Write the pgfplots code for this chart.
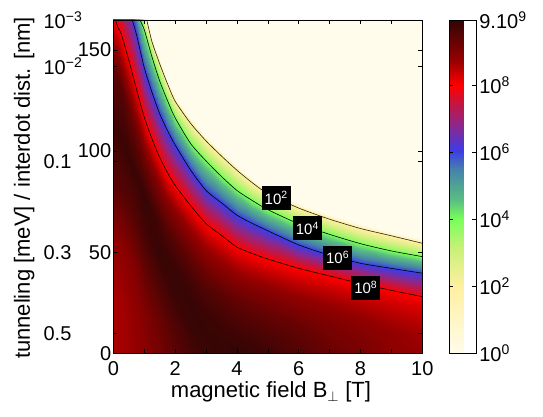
\documentclass[border=0pt]{standalone}
\usepackage{fontspec}
\setmainfont{Liberation Sans}
\usepackage{pgfplots}
\usepackage{pgfplotstable}
\pgfplotsset{compat=1.18}

% log10 of the rate on a curvilinear mesh: one scanline of 12 points per field value B,
% running up in distance d (interior points, then the 10^8, 10^6, 10^4, 10^2 levels)
\pgfplotstableread{
B d lg
0 0 8.6
0 28 8.6
0 56 8.8
0 84 9.5
0 112 9.8
0 140 9.4
0 168 8
0 200 6
0 225 4
0 245 2
0 247 0
0 260 0
0.25 0 8.65
0.25 26.35 8.65
0.25 52.7 8.85
0.25 79.05 9.5
0.25 105.4 9.85
0.25 131.75 9.5
0.25 158.1 8
0.25 187 6
0.25 210 4
0.25 228 2
0.25 230 0
0.25 260 0
0.5 0 8.7
0.5 24.15 8.75
0.5 48.3 8.95
0.5 72.45 9.5
0.5 96.6 9.85
0.5 120.75 9.3
0.5 144.9 8
0.5 174 6
0.5 192 4
0.5 208 2
0.5 210 0
0.5 260 0
0.75 0 8.8
0.75 21.75 8.85
0.75 43.5 9.1
0.75 65.25 9.6
0.75 87 9.85
0.75 108.75 9.2
0.75 130.5 8
0.75 157.4 6
0.75 175 4
0.75 186 2
0.75 188 0
0.75 260 0
1 0 8.9
1 19.45 9.0
1 38.9 9.3
1 58.35 9.7
1 77.8 9.9
1 97.25 9.2
1 116.7 8
1 141.2 6
1 160 4
1 166 2
1 168 0
1 260 0
1.25 0 9.03
1.25 17.67 9.15
1.25 35.33 9.45
1.25 53 9.8
1.25 70.67 9.8
1.25 88.33 9.1
1.25 106 8
1.25 129 6
1.25 146.5 4
1.25 154 2
1.25 156 0
1.25 260 0
1.5 0 9.15
1.5 16.13 9.3
1.5 32.27 9.6
1.5 48.4 9.9
1.5 64.53 9.7
1.5 80.67 9.0
1.5 96.8 8
1.5 118.4 6
1.5 134.6 4
1.5 143.1 2
1.5 145.1 0
1.5 260 0
1.75 0 9.3
1.75 14.88 9.45
1.75 29.77 9.73
1.75 44.65 9.88
1.75 59.53 9.6
1.75 74.42 8.95
1.75 89.3 8
1.75 110.2 6
1.75 125 4
1.75 133.3 2
1.75 135.3 0
1.75 260 0
2 0 9.45
2 13.83 9.6
2 27.67 9.85
2 41.5 9.85
2 55.33 9.5
2 69.17 8.9
2 83 8
2 103 6
2 116.4 4
2 124.6 2
2 126.6 0
2 260 0
2.5 0 9.7
2.5 12.17 9.85
2.5 24.33 9.9
2.5 36.5 9.7
2.5 48.67 9.3
2.5 60.83 8.75
2.5 73 8
2.5 90.6 6
2.5 103.7 4
2.5 113.7 2
2.5 115.7 0
2.5 260 0
3 0 9.85
3 10.68 9.9
3 21.37 9.8
3 32.05 9.55
3 42.73 9.15
3 53.42 8.65
3 64.1 8
3 80.5 6
3 95.1 4
3 105 2
3 107 0
3 260 0
3.5 0 9.9
3.5 9.72 9.85
3.5 19.43 9.7
3.5 29.15 9.45
3.5 38.87 9.05
3.5 48.58 8.6
3.5 58.3 8
3.5 74.4 6
3.5 87.4 4
3.5 97.5 2
3.5 99.5 0
3.5 260 0
4 0 9.95
4 8.75 9.8
4 17.5 9.6
4 26.25 9.35
4 35 9.0
4 43.75 8.55
4 52.5 8
4 68.3 6
4 80.5 4
4 90.5 2
4 92.5 0
4 260 0
4.5 0 9.9
4.5 8.22 9.73
4.5 16.43 9.53
4.5 24.65 9.28
4.5 32.87 8.95
4.5 41.08 8.53
4.5 49.3 8
4.5 64.2 6
4.5 75.5 4
4.5 84.3 2
4.5 86.3 0
4.5 260 0
5 0 9.8
5 7.77 9.65
5 15.53 9.45
5 23.3 9.2
5 31.07 8.9
5 38.83 8.5
5 46.6 8
5 60.6 6
5 71 4
5 78.9 2
5 80.9 0
5 260 0
6 0 9.55
6 7 9.45
6 14 9.3
6 21 9.05
6 28 8.8
6 35 8.45
6 42 8
6 53.6 6
6 64 4
6 71.8 2
6 73.8 0
6 260 0
7 0 9.3
7 6.37 9.2
7 12.73 9.1
7 19.1 8.95
7 25.47 8.7
7 31.83 8.4
7 38.2 8
7 48.5 6
7 58.8 4
7 66.3 2
7 68.3 0
7 260 0
8 0 9.1
8 5.78 9.05
8 11.57 8.95
8 17.35 8.8
8 23.13 8.6
8 28.92 8.35
8 34.7 8
8 44.5 6
8 54.2 4
8 61.7 2
8 63.7 0
8 260 0
9 0 8.9
9 5.22 8.85
9 10.43 8.8
9 15.65 8.65
9 20.87 8.5
9 26.08 8.3
9 31.3 8
9 42 6
9 50.6 4
9 58.1 2
9 60.1 0
9 260 0
10 0 8.75
10 4.67 8.7
10 9.33 8.65
10 14 8.55
10 18.67 8.4
10 23.33 8.25
10 28 8
10 39.6 6
10 47.8 4
10 54.4 2
10 56.4 0
10 260 0
}\ratemesh

\newcommand{\tickfont}{\fontsize{20}{24}\selectfont}
\newcommand{\labfont}{\fontsize{22}{26}\selectfont}

\begin{document}
\begin{tikzpicture}
\path[use as bounding box] (0,0) rectangle (543pt,417pt);
\begin{axis}[
  at={(113.4pt,63.7pt)}, anchor=south west,
  width=308.9pt, height=333.3pt, scale only axis,
  xmin=0, xmax=10, ymin=0, ymax=164.8,
  xtick={0,2,...,10}, minor xtick={1,3,...,9},
  ytick={0,50,100,150},
  extra y ticks={9.9,50,94.8,142,164.8},
  extra y tick labels={0.5,0.3,0.1,10\textsuperscript{−2},10\textsuperscript{−3}},
  extra y tick style={yticklabel style={anchor=west, xshift=-72pt}},
  tick align=inside, major tick length=4pt, minor tick length=4pt,
  tick style={black, line width=0.5pt},
  axis line style={line width=0.5pt},
  /pgf/number format/assume math mode=true,
  tick label style={font=\tickfont},
  yticklabel style={inner xsep=2pt},
  xticklabel style={yshift=-5pt},
  axis on top,
  colormap={rate}{rgb255(0pt)=(255,252,235); rgb255(200pt)=(255,240,160);
    rgb255(315pt)=(200,240,120); rgb255(400pt)=(120,255,90);
    rgb255(458pt)=(90,190,130); rgb255(549pt)=(70,130,170);
    rgb255(605pt)=(60,60,230); rgb255(680pt)=(140,40,140);
    rgb255(749pt)=(200,20,60); rgb255(800pt)=(255,0,0);
    rgb255(875pt)=(150,0,0); rgb255(995pt)=(50,5,5)},
  point meta min=0, point meta max=9.954,
  colorbar,
  colorbar style={
    width=26.6pt,
    at={(parent axis.north east)}, anchor=north west, xshift=18.4pt,
    ytick={0,2,4,6,8,9.954},
    yticklabels={10\textsuperscript{0},10\textsuperscript{2},10\textsuperscript{4},
      10\textsuperscript{6},10\textsuperscript{8},9.10\textsuperscript{9}},
    yticklabel style={font=\tickfont},
    major tick length=4pt, tick style={black, line width=0.5pt},
    axis line style={line width=0.5pt},
  },
  xlabel={magnetic field B$_\perp$ [T]},
  ylabel={tunneling [meV] / interdot dist. [nm]},
  label style={font=\labfont},
  xlabel style={at={(axis description cs:0.51,-0.134)}, anchor=base},
  ylabel style={at={(axis description cs:-0.289,0.496)}, anchor=center},
]
\addplot[surf, shader=interp, mesh/cols=12, mesh/rows=20, point meta=explicit]
  table[x=B, y=d, meta=lg] {\ratemesh};

% contour levels 10^8, 10^6, 10^4 and the ragged 10^2 edge
\addplot[black, line width=0.6pt, smooth, tension=0.4] coordinates {
  (0.07,164.8) (0.15,161) (0.25,158.1) (0.5,144.9) (0.75,130.5)
  (1,116.7) (1.25,106) (1.5,96.8) (1.75,89.3) (2,83) (2.5,73) (3,64.1)
  (3.5,58.3) (4,52.5) (4.5,49.3) (5,46.6) (6,42) (7,38.2) (8,34.5)
  (9,31.1) (10,28)};
\addplot[black, line width=0.6pt, smooth, tension=0.4] coordinates {
  (0.61,164.8) (0.75,157.4) (1,141.2) (1.25,129) (1.5,118.4) (1.75,110.2)
  (2,103) (2.5,90.6) (3,80.5) (3.5,74.4) (4,68.3) (4.5,64.2) (5,60.6)
  (6,53.6) (7,48.5) (8,44.5) (9,42) (10,39.6)};
\addplot[black, line width=0.6pt, smooth, tension=0.4] coordinates {
  (0.86,164.8) (1,160) (1.25,146.5) (1.5,134.6) (1.75,125) (2,116.4)
  (2.5,103.7) (3,95.1) (3.5,87.4) (4,80.5) (4.5,75.5) (5,71) (6,64)
  (7,58.8) (8,54.2) (9,50.6) (10,47.8)};
\addplot[black!75!brown, line width=0.6pt, smooth, tension=0.4] coordinates {
  (1.08,164.8) (1.25,154) (1.5,143.1) (1.75,133.3) (2,124.6) (2.5,113.7)
  (3,105) (3.5,97.5) (4,90.5) (4.5,84.3) (5,78.9) (6,71.8) (7,66.3)
  (8,61.7) (9,58.1) (10,54.4)};

\begin{scope}[every node/.style={fill=black, text=white, font=\fontsize{15}{17}\selectfont,
    inner xsep=3pt, inner ysep=0pt, minimum height=24pt}]
\node at (axis cs:5.27,76.8) {10\textsuperscript{2}};
\node at (axis cs:6.28,61.8) {10\textsuperscript{4}};
\node at (axis cs:7.26,47.3) {10\textsuperscript{6}};
\node at (axis cs:8.17,32.5) {10\textsuperscript{8}};
\end{scope}
\end{axis}
\end{tikzpicture}
\end{document}
